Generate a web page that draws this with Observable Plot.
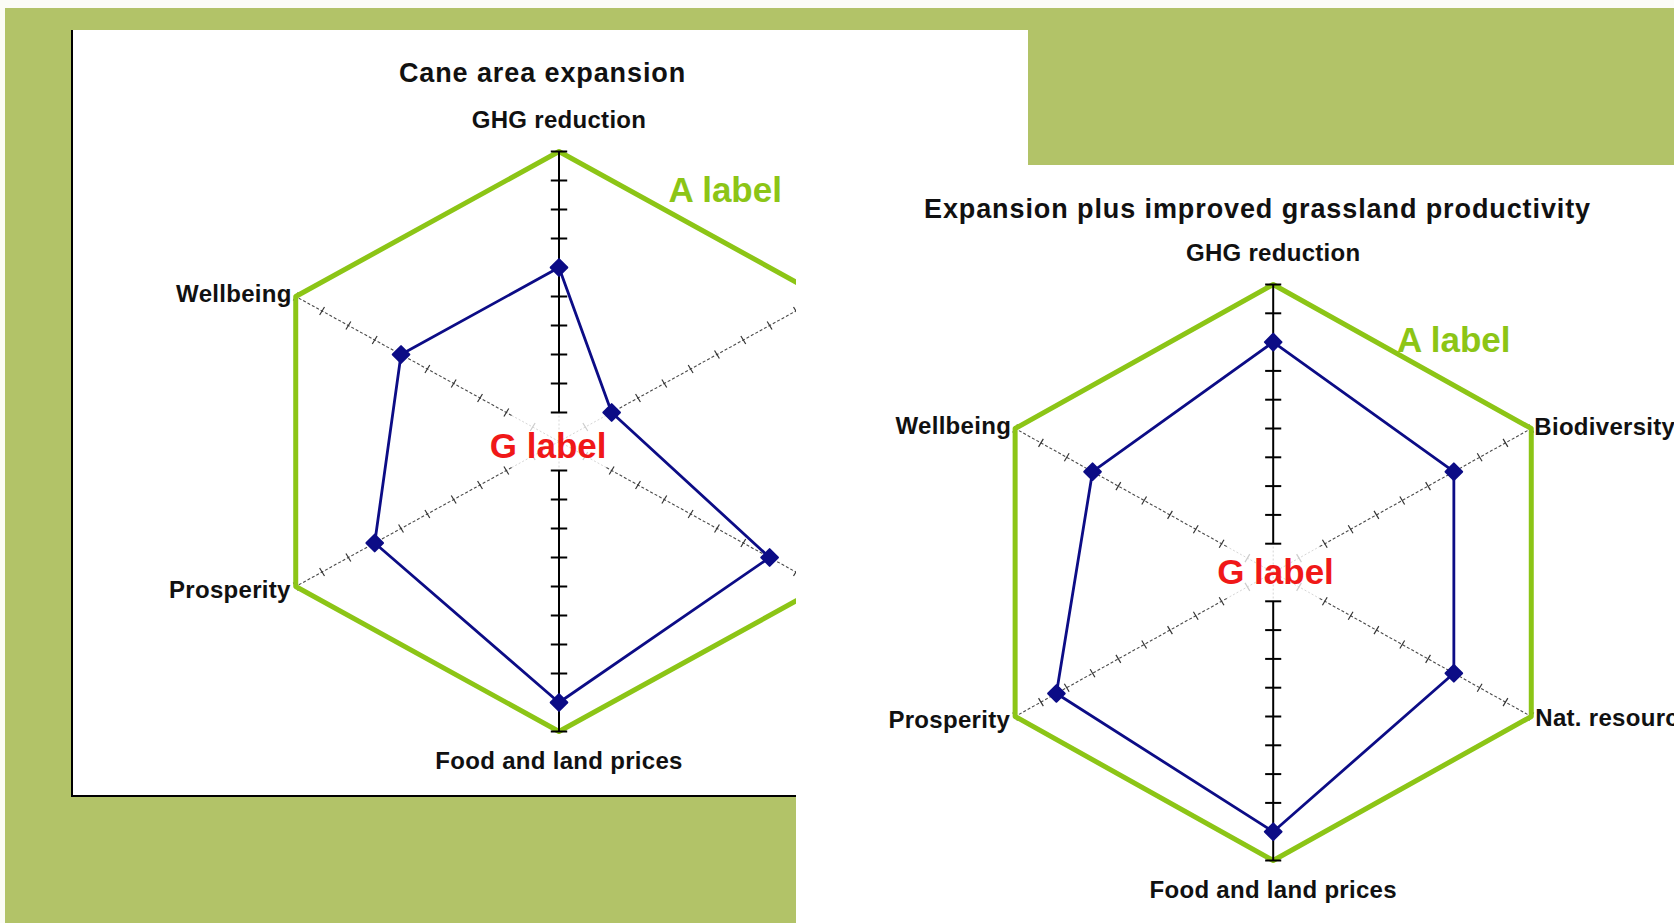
<!DOCTYPE html>
<html><head><meta charset="utf-8">
<script src="https://cdn.jsdelivr.net/npm/d3@7"></script>
<script src="https://cdn.jsdelivr.net/npm/@observablehq/plot@0.6"></script>
<style>
html,body{margin:0;padding:0;width:1674px;height:923px;overflow:hidden;background:#fbfcf6;}
#bg{position:absolute;left:5px;top:8px;width:1669px;height:915px;background:#b2c368;}
#leftPanel{position:absolute;left:71px;top:30px;width:957px;height:767px;background:#fff;border-left:2px solid #000;border-bottom:2px solid #000;box-sizing:border-box;}
#leftChart{position:absolute;left:73px;top:30px;width:723px;height:764px;overflow:hidden;}
#rightPanel{position:absolute;left:796px;top:165px;width:878px;height:758px;background:#fff;overflow:hidden;}
svg{display:block}
</style>
</head><body>
<div id="bg"></div>
<div id="leftPanel"></div>
<div id="leftChart"></div>
<div id="rightPanel"></div>
<script>
// ---- data ----
const axisNames = ["GHG reduction", "Biodiversity", "Nat. resources", "Food and land prices", "Prosperity", "Wellbeing"];
const scaleTicks = [1, 2, 3, 4, 5, 6, 7, 8, 9, 10];
const scaleMax = 10;
const caneValues = [6, 2, 8, 9, 7, 6];
const grasslandValues = [8, 7, 7, 9, 8.4, 7];
const chartTitles = ["Cane area expansion", "Expansion plus improved grassland productivity"];
const outerLabel = "A label";
const centreLabel = "G label";

// ---- styles ----
const FONT = "'Liberation Sans', Arial, Helvetica, sans-serif";
const GREEN = "#8cc516", NAVY = "#0c0c86", RED = "#f01818";
const labelStyle = [
  {textAnchor: "middle", dx: 0, dy: -31},
  {textAnchor: "start", dx: 3, dy: -1},
  {textAnchor: "start", dx: 4, dy: 2},
  {textAnchor: "middle", dx: 0, dy: 30},
  {textAnchor: "end", dx: -5, dy: 4},
  {textAnchor: "end", dx: -4, dy: -2}
];

function radar(values, title, L) {
  const n = axisNames.length;
  const ang = i => Math.PI / 2 - i * 2 * Math.PI / n;
  const pt = (i, v) => ({x: v * Math.cos(ang(i)), y: v * Math.sin(ang(i))});
  const isVertical = i => i % 3 === 0;
  const fadeAt = i => isVertical(i) ? 1 : 1.8;

  const fadeSegs = axisNames.map((name, i) => {
    const a = pt(i, 0), b = pt(i, fadeAt(i));
    return {x1: a.x, y1: a.y, x2: b.x, y2: b.y};
  });
  const diagSegs = axisNames.map((name, i) => ({i, name})).filter(d => !isVertical(d.i)).map(d => {
    const a = pt(d.i, fadeAt(d.i)), b = pt(d.i, scaleMax);
    return {x1: a.x, y1: a.y, x2: b.x, y2: b.y};
  });
  const vertSegs = axisNames.map((name, i) => ({i})).filter(d => isVertical(d.i)).map(d => {
    const a = pt(d.i, fadeAt(d.i)), b = pt(d.i, scaleMax);
    return {x1: a.x, y1: a.y, x2: b.x, y2: b.y};
  });
  const ticks = [];
  axisNames.forEach((name, i) => {
    const h = isVertical(i) ? 0.27 : 0.16;
    const px = -Math.sin(ang(i)) * h, py = Math.cos(ang(i)) * h;
    scaleTicks.forEach(t => {
      const c = pt(i, t);
      ticks.push({vertical: isVertical(i), light: t < fadeAt(i),
        x1: c.x - px, y1: c.y - py, x2: c.x + px, y2: c.y + py});
    });
  });
  const outer = axisNames.map((name, i) => ({name, i, ...pt(i, scaleMax)}));
  const series = values.map((v, i) => ({name: axisNames[i], value: v, ...pt(i, v)}));

  const xScale = {domain: [-scaleMax, scaleMax], range: [L.cx - L.rx, L.cx + L.rx]};
  const yScale = {domain: [-scaleMax, scaleMax], range: [L.cy + L.ry, L.cy - L.ry]};
  const toPx = v => L.cx + (v / scaleMax) * L.rx;

  const labelMarks = outer.filter(d => toPx(d.x) < L.width).map(d =>
    Plot.text([d], {x: "x", y: "y", text: "name", ...labelStyle[d.i], lineAnchor: "middle",
      fontSize: 24, fontWeight: "bold", fontFamily: FONT, fill: "#111"}));

  const svg = Plot.plot({
    width: L.width, height: L.height, margin: 0,
    style: {background: "transparent", overflow: "hidden"},
    x: {...xScale, axis: null}, y: {...yScale, axis: null},
    marks: [
      Plot.link(fadeSegs, {x1: "x1", y1: "y1", x2: "x2", y2: "y2", stroke: "#d6d6d6", strokeWidth: 1, strokeDasharray: "2,2"}),
      Plot.link(diagSegs, {x1: "x1", y1: "y1", x2: "x2", y2: "y2", stroke: "#4a4a4a", strokeWidth: 1.1, strokeDasharray: "3,2"}),
      Plot.link(ticks.filter(d => !d.vertical), {x1: "x1", y1: "y1", x2: "x2", y2: "y2", stroke: d => d.light ? "#ccc" : "#333", strokeWidth: 1.2}),
      Plot.line(outer, {x: "x", y: "y", curve: "linear-closed", stroke: GREEN, strokeWidth: 5, strokeLinejoin: "round"}),
      Plot.link(vertSegs, {x1: "x1", y1: "y1", x2: "x2", y2: "y2", stroke: "#000", strokeWidth: 2}),
      Plot.link(ticks.filter(d => d.vertical), {x1: "x1", y1: "y1", x2: "x2", y2: "y2", stroke: "#000", strokeWidth: 2}),
      Plot.line(series, {x: "x", y: "y", curve: "linear-closed", stroke: NAVY, strokeWidth: 2.8, strokeLinejoin: "round"}),
      Plot.dot(series, {x: "x", y: "y", symbol: "diamond2", r: 7.5, fill: NAVY, stroke: NAVY, strokeWidth: 2, strokeLinejoin: "round"}),
      ...labelMarks,
      Plot.text([title], {frameAnchor: "top-left", dx: L.titleX, dy: L.titleY, text: d => d, textAnchor: "middle", lineAnchor: "middle",
        fontSize: 27, fontWeight: "bold", fontFamily: FONT, fill: "#111"}),
      Plot.text([outerLabel], {frameAnchor: "top-left", dx: L.aX, dy: L.aY, text: d => d, textAnchor: "middle", lineAnchor: "middle",
        fontSize: 35, fontWeight: "bold", fontFamily: FONT, fill: GREEN}),
      Plot.text([centreLabel], {frameAnchor: "top-left", dx: L.gX, dy: L.gY, text: d => d, textAnchor: "middle", lineAnchor: "middle",
        fontSize: 35, fontWeight: "bold", fontFamily: FONT, fill: RED})
    ]
  });
  d3.select(svg).selectAll("g[font-size='24'] text").attr("letter-spacing", "0.3px");
  d3.select(svg).selectAll("g[font-size='27'] text").attr("letter-spacing", "0.9px");
  return svg;
}

const leftLayout = {width: 723, height: 764, cx: 485.5, cy: 411, rx: 304, ry: 290,
  titleX: 469, titleY: 42.6, aX: 651.7, aY: 160, gX: 474.7, gY: 416.3};
const rightLayout = {width: 878, height: 758, cx: 476.7, cy: 407, rx: 298, ry: 288,
  titleX: 461, titleY: 44, aX: 657.3, aY: 175, gX: 479, gY: 407};

document.getElementById("leftChart").appendChild(radar(caneValues, chartTitles[0], leftLayout));
document.getElementById("rightPanel").appendChild(radar(grasslandValues, chartTitles[1], rightLayout));
</script>
</body></html>
